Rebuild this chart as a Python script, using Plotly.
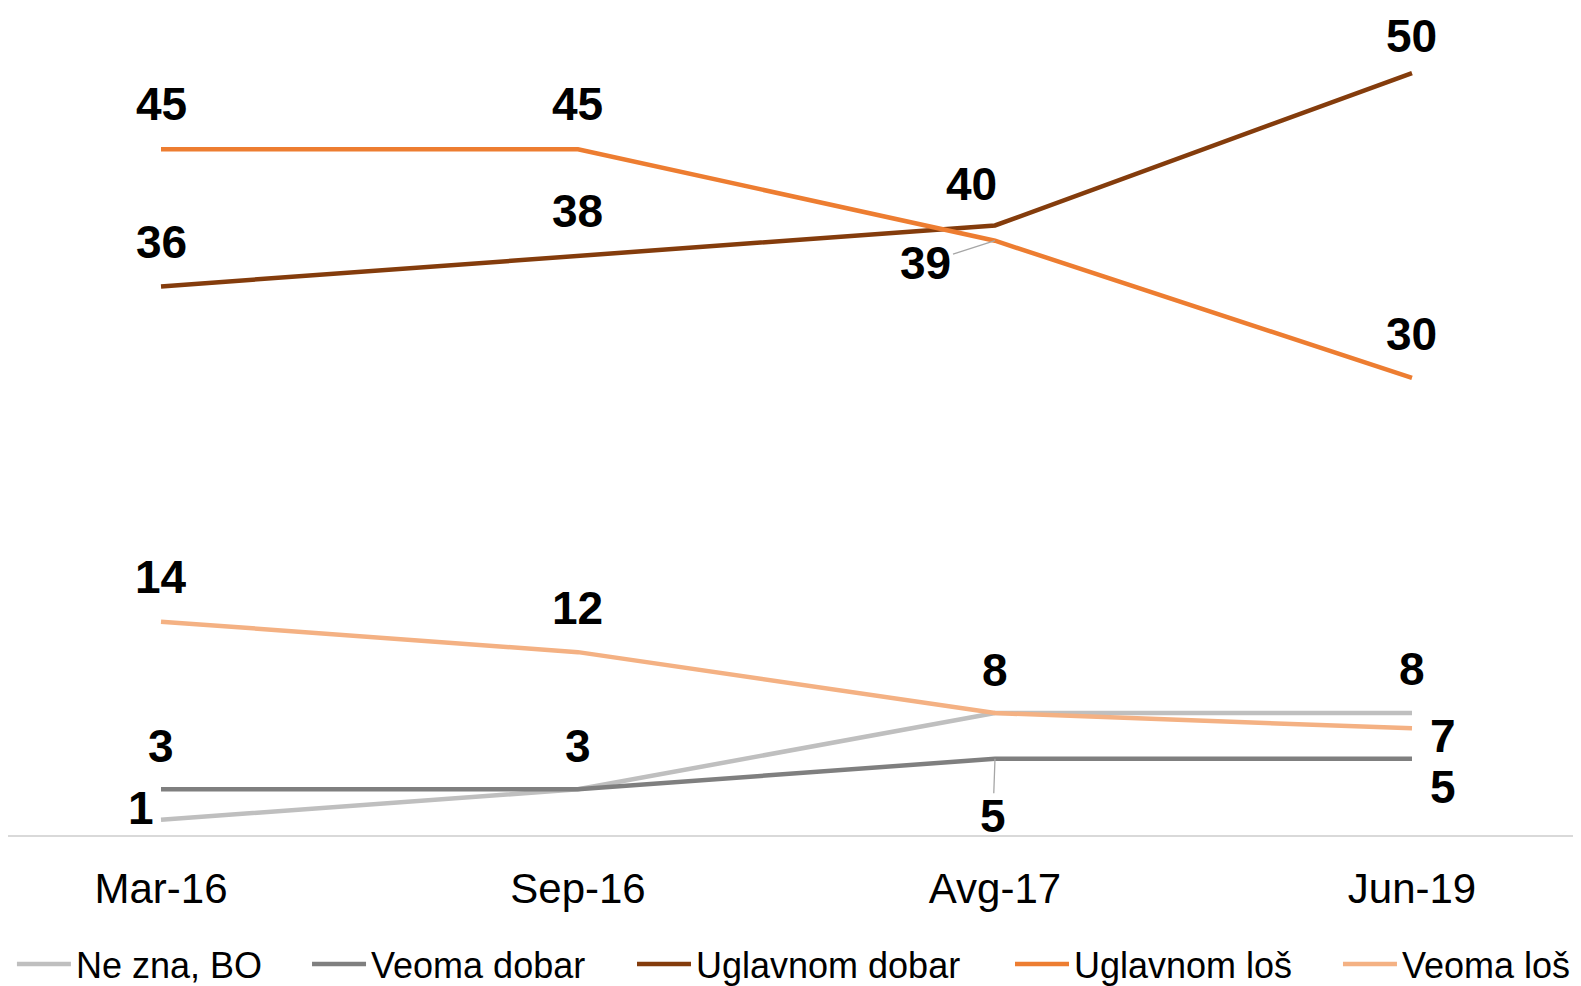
import plotly.graph_objects as go

categories = ["Mar-16", "Sep-16", "Avg-17", "Jun-19"]
ne_zna = [1, 3, 8, 8]
veoma_dobar = [3, 3, 5, 5]
uglavnom_dobar = [36, 38, 40, 50]
uglavnom_los = [45, 45, 39, 30]
veoma_los = [14, 12, 8, 7]

series_names = ["Ne zna, BO", "Veoma dobar", "Uglavnom dobar", "Uglavnom loš", "Veoma loš"]
series_values = [ne_zna, veoma_dobar, uglavnom_dobar, uglavnom_los, veoma_los]
series_colors = ["#BFBFBF", "#7F7F7F", "#843C0C", "#ED7D31", "#F4B183"]

# legend box positions (paper fraction), one legend per series
legend_x = [0.0025, 0.1901, 0.3967, 0.6370, 0.8455]

# label placement styles: (series, point index) -> (xshift, yshift, leader ax, leader ay)
label_styles = {
    ("Ne zna, BO", 0): (-20, 12, None, None),
    ("Ne zna, BO", 3): (0, 44, None, None),
    ("Veoma dobar", 0): (0, 43, None, None),
    ("Veoma dobar", 1): (0, 43, None, None),
    ("Veoma dobar", 2): (0, 0, -2, 57),
    ("Veoma dobar", 3): (31, -28, None, None),
    ("Uglavnom dobar", 0): (0, 44, None, None),
    ("Uglavnom dobar", 1): (0, 45, None, None),
    ("Uglavnom dobar", 2): (-23, 41, None, None),
    ("Uglavnom dobar", 3): (0, 37, None, None),
    ("Uglavnom loš", 0): (0, 45, None, None),
    ("Uglavnom loš", 1): (0, 45, None, None),
    ("Uglavnom loš", 2): (0, 0, -69, 22),
    ("Uglavnom loš", 3): (0, 44, None, None),
    ("Veoma loš", 0): (0, 45, None, None),
    ("Veoma loš", 1): (0, 44, None, None),
    ("Veoma loš", 2): (0, 43, None, None),
    ("Veoma loš", 3): (31, -8, None, None),
}

FONT = "Liberation Sans, Arial, sans-serif"

fig = go.Figure()
legend_layouts = {}
for k, (name, vals, col) in enumerate(zip(series_names, series_values, series_colors)):
    lg = "legend" if k == 0 else "legend%d" % (k + 1)
    fig.add_trace(go.Scatter(
        x=categories, y=vals, name=name, mode="lines",
        line=dict(color=col, width=4.5),
        hoverinfo="skip", legend=lg,
    ))
    legend_layouts[lg] = dict(
        orientation="h", x=legend_x[k], xanchor="left", y=-0.156, yanchor="middle",
        font=dict(family=FONT, size=36, color="#000000"),
        itemwidth=54, bgcolor="rgba(0,0,0,0)", borderwidth=0,
    )

annotations = []
for name, vals in zip(series_names, series_values):
    for i, v in enumerate(vals):
        st = label_styles.get((name, i))
        if st is None:
            continue
        xs, ys, ax, ay = st
        a = dict(x=categories[i], y=v, xref="x", yref="y",
                 text="<b>%d</b>" % v, height=42,
                 font=dict(family=FONT, size=46, color="#000000"))
        if ax is None:
            a.update(showarrow=False, xshift=xs, yshift=ys)
        else:
            a.update(showarrow=True, ax=ax, ay=ay, arrowhead=0, arrowwidth=1.3,
                     arrowcolor="#A6A6A6", standoff=0)
        annotations.append(a)

fig.update_layout(
    width=1581, height=986,
    margin=dict(l=0, r=8, t=0, b=153),
    paper_bgcolor="#FFFFFF", plot_bgcolor="#FFFFFF",
    font=dict(family=FONT, color="#000000"),
    xaxis=dict(type="category", range=[-0.3669, 3.4053], showgrid=False, zeroline=False,
               showline=True, linecolor="#D9D9D9", linewidth=1.5,
               ticks="outside", ticklen=16, tickcolor="rgba(0,0,0,0)",
               tickfont=dict(size=42, color="#000000")),
    yaxis=dict(range=[0, 54.27], visible=False),
    showlegend=True,
    annotations=annotations,
    **legend_layouts,
)

fig.write_html("out.html")
